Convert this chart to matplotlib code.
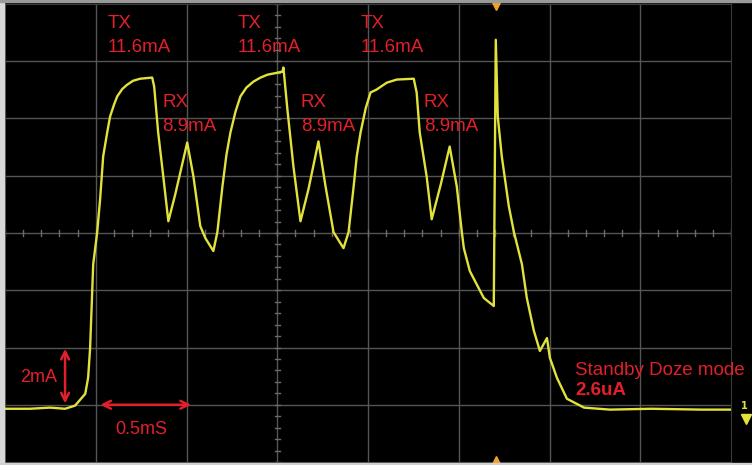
import matplotlib
matplotlib.use("Agg")
import matplotlib.pyplot as plt
import numpy as np

# trace: time in ms, current in mA
t_ms = [0.000, 0.138, 0.248, 0.331, 0.386, 0.442, 0.458, 0.469, 0.486, 0.508,
        0.524, 0.541, 0.563, 0.579, 0.601, 0.618, 0.646, 0.673, 0.706, 0.745,
        0.811, 0.822, 0.844, 0.872, 0.900, 0.938, 1.004, 1.038, 1.076, 1.104,
        1.148, 1.170, 1.198, 1.220, 1.242, 1.270, 1.297, 1.330, 1.369, 1.408,
        1.446, 1.501, 1.529, 1.534, 1.556, 1.589, 1.628, 1.672, 1.727, 1.766,
        1.810, 1.865, 1.893, 1.921, 1.938, 1.959, 1.987, 2.014, 2.047, 2.103,
        2.158, 2.252, 2.268, 2.285, 2.323, 2.351, 2.401, 2.450, 2.489, 2.517,
        2.528, 2.561, 2.638, 2.693, 2.704, 2.715, 2.737, 2.776, 2.804, 2.848,
        2.875, 2.914, 2.947, 2.986, 3.002, 3.041, 3.096, 3.190, 3.333, 3.560,
        3.836, 4.000]
i_ma = [-0.14, -0.14, -0.10, -0.14, -0.03, 0.38, 0.94, 1.99, 4.91, 6.03,
        7.18, 8.68, 9.51, 10.07, 10.49, 10.77, 11.03, 11.18, 11.32, 11.39,
        11.43, 11.11, 9.51, 7.98, 6.41, 7.35, 9.16, 7.98, 6.24, 5.82,
        5.37, 6.03, 7.63, 8.73, 9.51, 10.24, 10.77, 11.08, 11.29, 11.43,
        11.53, 11.60, 11.64, 11.78, 10.31, 8.33, 6.41, 7.53, 9.20, 7.63,
        6.03, 5.47, 6.03, 7.63, 8.68, 9.51, 10.35, 10.91, 11.01, 11.25,
        11.36, 11.39, 10.91, 9.51, 7.98, 6.48, 7.70, 9.02, 7.63, 6.03,
        5.47, 4.67, 3.73, 3.45, 12.75, 10.07, 8.68, 6.93, 6.03, 4.91,
        3.73, 2.58, 1.88, 2.33, 1.64, 0.94, 0.21, -0.10, -0.17, -0.14,
        -0.17, -0.17]

# annotations (text, t in ms at left edge)
tx_labels = ["TX\n11.6mA", "TX\n11.6mA", "TX\n11.6mA"]
tx_pos_t = [0.563, 1.281, 1.960]
rx_labels = ["RX\n8.9mA", "RX\n8.9mA", "RX\n8.9mA"]
rx_pos_t = [0.867, 1.629, 2.307]
standby_label = "Standby Doze mode"
standby_value = "2.6uA"

RED = "#e2202a"
YEL = "#e2e23c"
GRID = "#555555"

W, H = 752, 465
fig = plt.figure(figsize=(W / 100, H / 100), dpi=100, facecolor="black")
ax = fig.add_axes([5 / W, 3 / H, 726 / W, 458 / H])
ax.set_facecolor("black")
ax.set_xlim(0, 4.0)
ax.set_ylim(-2, 14)

# grid: 0.5 ms/div and 2 mA/div
for x in np.arange(0.5, 4.0, 0.5):
    ax.axvline(x, color=GRID, lw=1.0, zorder=1)
for y in np.arange(0, 14, 2):
    ax.axhline(y, color=GRID, lw=1.0, zorder=1)

# tick marks along the centre axes
for x in np.arange(0, 4.0001, 0.1):
    ax.plot([x, x], [5.9, 6.1], color="#6a6a6a", lw=1.0, zorder=1)
for y in np.arange(-2, 14.001, 0.4):
    ax.plot([1.485, 1.515], [y, y], color="#6a6a6a", lw=1.0, zorder=1)

ax.set_xticks([])
ax.set_yticks([])
for s in ax.spines.values():
    s.set_color("#3a3a3a")

ax.plot(t_ms, i_ma, color=YEL, lw=1.7, zorder=3, solid_joinstyle="round")

font = dict(family="Liberation Sans", color=RED, fontsize=13.5, linespacing=1.5)
for lab, x in zip(tx_labels, tx_pos_t):
    ax.text(x, 13.6, lab, va="top", ha="left", zorder=4, **font)
for lab, x in zip(rx_labels, rx_pos_t):
    ax.text(x, 10.85, lab, va="top", ha="left", zorder=4, **font)

ax.text(3.14, 1.5, standby_label, va="top", ha="left", clip_on=False,
        zorder=4, **font)
ax.text(3.14, 0.78, standby_value, va="top", ha="left", clip_on=False,
        zorder=4, fontweight="bold", **font)

# scale arrows
ax.annotate("", xy=(0.331, -0.05), xytext=(0.331, 2.05),
            arrowprops=dict(arrowstyle="<->", color=RED, lw=1.8,
                            mutation_scale=14))
ax.text(0.085, 0.95, "2mA", color=RED, family="Liberation Sans",
        fontsize=13, va="center", ha="left")
ax.annotate("", xy=(0.51, 0.0), xytext=(1.04, 0.0),
            arrowprops=dict(arrowstyle="<->", color=RED, lw=1.8,
                            mutation_scale=14))
ax.text(0.61, -0.85, "0.5mS", color=RED, family="Liberation Sans",
        fontsize=13, va="center", ha="left")

# trigger and ground markers
trig_t = 2.704
ax.plot([trig_t], [1.0], marker="v", ms=9, color="#f0a224",
        transform=ax.get_xaxis_transform(), clip_on=False, zorder=5)
ax.plot([trig_t], [0.0], marker="^", ms=9, color="#f0a224",
        transform=ax.get_xaxis_transform(), clip_on=False, zorder=5)
ax.plot([1.02], [-0.5], marker="v", ms=7, color=YEL,
        transform=ax.get_yaxis_transform(), clip_on=False, zorder=5)
ax.text(1.013, -0.05, "1", color=YEL, fontsize=7, fontweight="bold",
        transform=ax.get_yaxis_transform(), va="center", ha="left")

# light frame strips at left / top / bottom of the screenshot
fig.patches.append(plt.Rectangle((0, 0), 4 / W, 1, color="#d8d8d8",
                                 transform=fig.transFigure, zorder=0))
fig.patches.append(plt.Rectangle((0, 1 - 2 / H), 1, 2 / H, color="#9a9a9a",
                                 transform=fig.transFigure, zorder=0))
fig.patches.append(plt.Rectangle((0, 0), 1, 2 / H, color="#d0d0d0",
                                 transform=fig.transFigure, zorder=0))

fig.savefig("out.png", dpi=100, facecolor=fig.get_facecolor())
